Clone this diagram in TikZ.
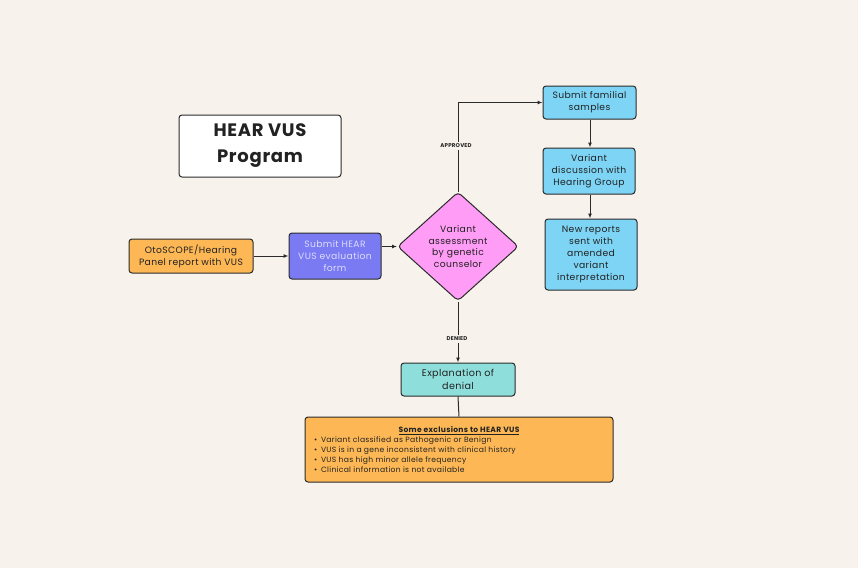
\documentclass[tikz,border=0pt]{standalone}
\usepackage{fontspec}
\setmainfont{Poppins}[LetterSpace=4]
\usetikzlibrary{shapes.geometric,arrows.meta}
\definecolor{bg}{HTML}{F7F3EC}
\definecolor{edge}{HTML}{2B2B2B}
\definecolor{orangeF}{HTML}{FDB855}
\definecolor{purpleF}{HTML}{7A7AF2}
\definecolor{purpleT}{HTML}{DCDCFF}
\definecolor{pinkF}{HTML}{FF9CF6}
\definecolor{blueF}{HTML}{7DD4F5}
\definecolor{tealF}{HTML}{8EDFDC}
\definecolor{txt}{HTML}{222222}
\tikzset{
  box/.style={draw=edge, line width=1pt, rounded corners=3pt, align=center, inner sep=0pt, text=txt, font=\fontsize{9.2}{12}\selectfont},
  conn/.style={draw=edge, line width=1pt},
  arr/.style={conn, -{Latex[length=5pt,width=4pt]}},
  lab/.style={fill=bg, inner sep=2pt, text=txt, font=\fontsize{5.5}{6}\selectfont\bfseries}
}
\begin{document}
\begin{tikzpicture}[x=1pt,y=-1pt]
\fill[bg] (0,0) rectangle (858,568);
\useasboundingbox (0,0) rectangle (858,568);

\node[box, fill=white, minimum width=162pt, minimum height=62pt, font=\fontsize{18}{26}\selectfont\bfseries] (title) at (260,146) {HEAR VUS\\Program};

\node[box, fill=orangeF, minimum width=124pt, minimum height=34pt] (oto) at (191,256) {OtoSCOPE/Hearing\\Panel report with VUS};

\node[box, fill=purpleF, text=purpleT, minimum width=92pt, minimum height=46pt] (sub) at (335,256) {Submit HEAR\\VUS evaluation\\form};

\node[diamond, draw=edge, line width=1pt, rounded corners=4pt, fill=pinkF, minimum width=121pt, minimum height=109pt, inner sep=0pt, text width=66pt, align=center, text=txt, font=\fontsize{9.2}{11.5}\selectfont] (dia) at (458,246.5) {Variant\\assessment\\by genetic\\counselor};

\node[box, fill=blueF, minimum width=93pt, minimum height=33pt] (fam) at (589.5,102.5) {Submit familial\\samples};
\node[box, fill=blueF, minimum width=92pt, minimum height=46pt] (disc) at (589,171) {Variant\\discussion with\\Hearing Group};
\node[box, fill=blueF, minimum width=92pt, minimum height=71pt] (rep) at (591,254.5) {New reports\\sent with\\amended\\variant\\interpretation};

\node[box, fill=tealF, minimum width=114pt, minimum height=33pt, font=\fontsize{9.6}{12.5}\selectfont] (expl) at (458,379.5) {Explanation of\\denial};

\node[box, fill=orangeF, minimum width=308pt, minimum height=65pt, align=left, font=\fontsize{7.6}{10}\selectfont] (excl) at (459,449.5) {\parbox{290pt}{\centering{\bfseries\underline{Some exclusions to HEAR VUS}}\\[-0.5pt]
\raggedright
\makebox[7pt][l]{•}Variant classified as Pathogenic or Benign\\
\makebox[7pt][l]{•}VUS is in a gene inconsistent with clinical history\\
\makebox[7pt][l]{•}VUS has high minor allele frequency\\
\makebox[7pt][l]{•}Clinical information is not available}};

\draw[arr] (oto.east) -- (sub.west);
\draw[arr] (sub.east |- dia.west) -- (dia.west);
\coordinate (bend) at (dia.north |- fam.west);
\draw[arr] (dia.north) -- (bend) -- (fam.west);
\node[lab] (appr) at (456,146) {APPROVED};
\draw[arr] (fam.south -| 590,0) -- (disc.north -| 590,0);
\draw[arr] (disc.south -| 590,0) -- (rep.north -| 590,0);
\draw[arr] (dia.south) -- (expl.north);
\node[lab] (den) at (457,339) {DENIED};
\draw[conn] (expl.south) -- (excl.north);
\end{tikzpicture}
\end{document}
